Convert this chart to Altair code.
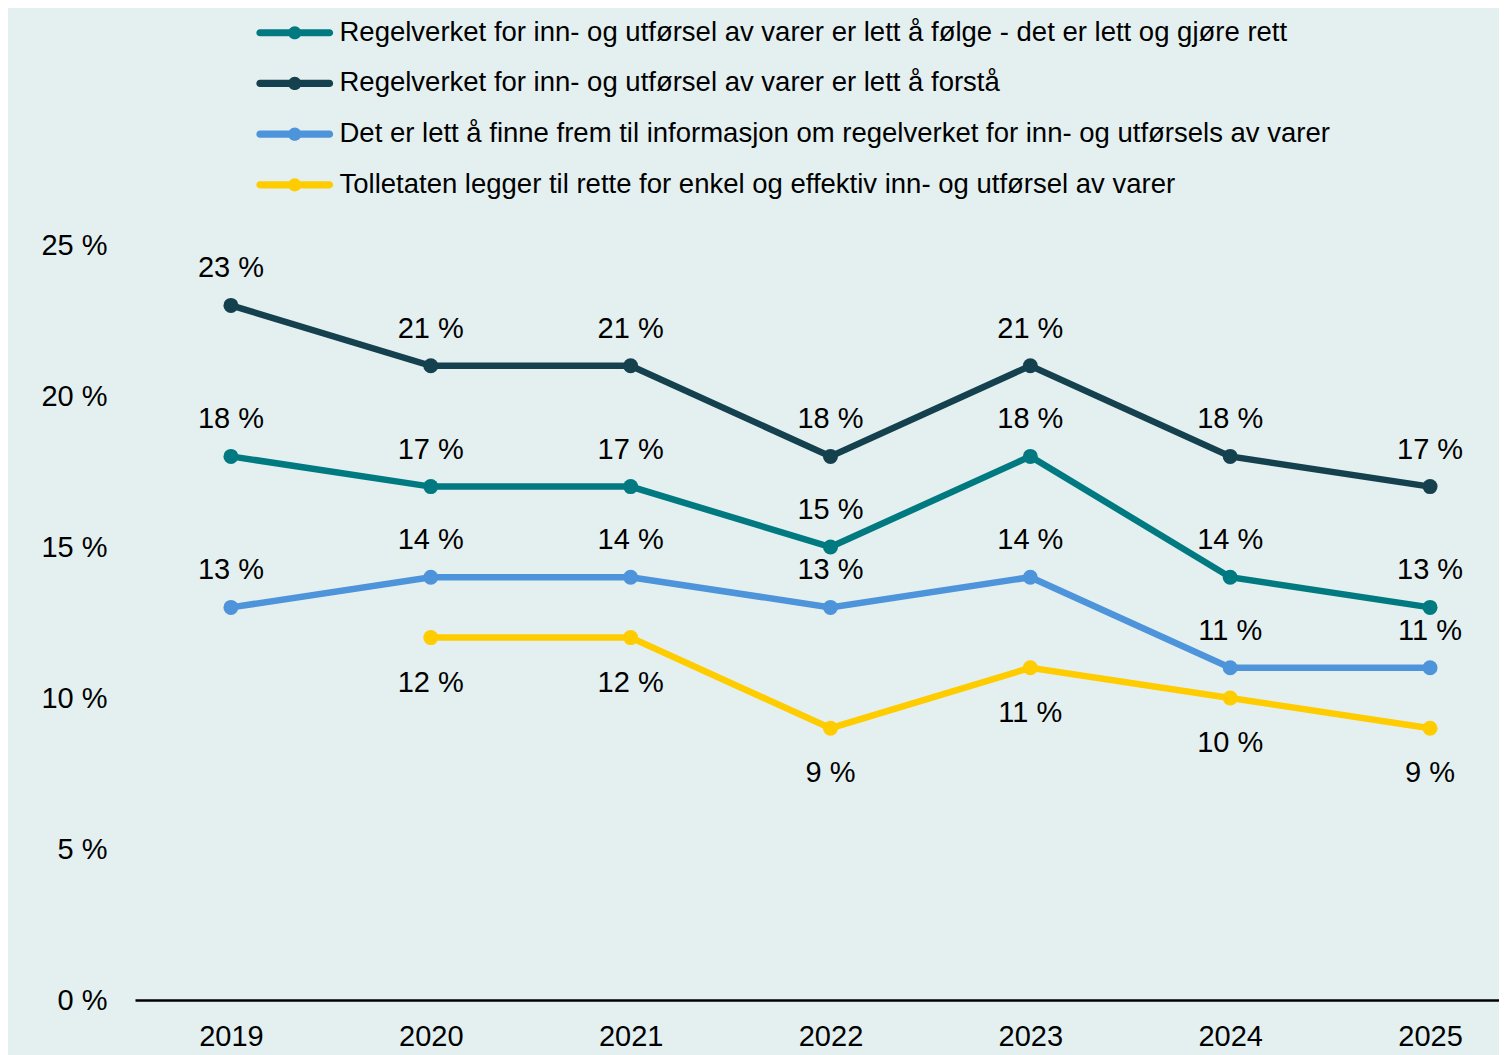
import altair as alt
import pandas as pd

years = [2019, 2020, 2021, 2022, 2023, 2024, 2025]
series_names = [
    "Regelverket for inn- og utførsel av varer er lett å følge - det er lett og gjøre rett",
    "Regelverket for inn- og utførsel av varer er lett å forstå",
    "Det er lett å finne frem til informasjon om regelverket for inn- og utførsels av varer",
    "Tolletaten legger til rette for enkel og effektiv inn- og utførsel av varer",
]
folge = [18, 17, 17, 15, 18, 14, 13]
forsta = [23, 21, 21, 18, 21, 18, 17]
finne = [13, 14, 14, 13, 14, 11, 11]
tolletaten = [None, 12, 12, 9, 11, 10, 9]
colors = ["#007a80", "#15414f", "#4d94db", "#ffcc00"]

rows = []
for name, vals in zip(series_names, [folge, forsta, finne, tolletaten]):
    for y, v in zip(years, vals):
        if v is not None:
            rows.append({"year": y, "series": name, "value": v, "label": f"{v} %"})
df = pd.DataFrame(rows)

FONT = "Liberation Sans"
LEGEND_PATH = ("M-2.9,-0.3 L2.9,-0.3 A0.3,0.3 0 0,1 2.9,0.3 L-2.9,0.3 A0.3,0.3 0 0,1 -2.9,-0.3 Z "
               "M-0.55,0 A0.55,0.55 0 1,1 0.55,0 A0.55,0.55 0 1,1 -0.55,0 Z")

x = alt.X("year:Q", scale=alt.Scale(domain=[2018.52, 2025.345], nice=False, zero=False),
          axis=alt.Axis(values=years, format="d", title=None, grid=False, ticks=False,
                        domain=True, domainColor="#000000", domainWidth=2.5,
                        labelFontSize=29, labelColor="#000000", labelPadding=22,
                        labelFont=FONT))
y = alt.Y("value:Q", scale=alt.Scale(domain=[0, 25], nice=False),
          axis=alt.Axis(values=[0, 5, 10, 15, 20, 25], labelExpr="datum.value + ' %'",
                        title=None, grid=False, ticks=False, domain=False,
                        labelFontSize=29, labelColor="#000000", labelPadding=28,
                        labelFont=FONT))
color_scale = alt.Scale(domain=series_names, range=colors)

legend = alt.Legend(title=None, orient="none", legendX=146, legendY=-226,
                    direction="vertical", symbolType=LEGEND_PATH,
                    symbolSize=576, symbolStrokeWidth=0,
                    labelFontSize=27.5, labelFont=FONT, labelColor="#000000",
                    labelLimit=0, labelOffset=31, rowPadding=21.7,
                    padding=0, symbolOpacity=1)

base = alt.Chart(df)

lines = base.mark_line(strokeWidth=6.5).encode(
    x=x, y=y,
    color=alt.Color("series:N", scale=color_scale, legend=legend),
    detail="series:N",
)
points = base.mark_point(filled=True, size=225, opacity=1, shape="circle").encode(
    x=x, y=y,
    color=alt.Color("series:N", scale=color_scale, legend=legend),
)
labels_above = base.transform_filter(
    alt.datum.series != series_names[3]
).mark_text(dy=-37, fontSize=29, font=FONT, color="#000000").encode(
    x=x, y=y, text="label:N"
)
labels_below = base.transform_filter(
    alt.datum.series == series_names[3]
).mark_text(dy=45, fontSize=29, font=FONT, color="#000000").encode(
    x=x, y=y, text="label:N"
)

chart = alt.layer(lines, points, labels_above, labels_below).properties(
    width=1364, height=755,
    autosize=alt.AutoSizeParams(type="none"),
    padding={"left": 127, "top": 237, "right": 0, "bottom": 58},
    background="#e4f0f0",
).configure_view(stroke=None)

chart.save("out.html", embed_options={"renderer": "svg", "actions": False})
